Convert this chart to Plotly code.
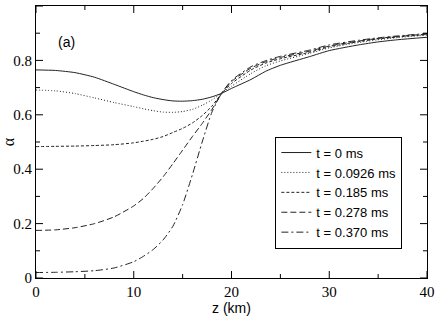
import plotly.graph_objects as go

# z positions (km) sampled along each curve
z = [0, 2, 4, 6, 8, 10, 11, 12, 13, 14, 15, 16, 17, 18, 19, 20, 22, 23.5, 25, 28, 30, 33, 35, 37, 40]

# alpha values for each time
a_0 = [0.765, 0.763, 0.755, 0.738, 0.712, 0.685, 0.673, 0.663, 0.656, 0.651, 0.650, 0.652, 0.657, 0.666, 0.679, 0.697, 0.730, 0.760, 0.782, 0.814, 0.836, 0.857, 0.868, 0.876, 0.885]
a_0926 = [0.691, 0.688, 0.678, 0.662, 0.645, 0.630, 0.622, 0.615, 0.610, 0.609, 0.612, 0.620, 0.635, 0.655, 0.680, 0.705, 0.752, 0.780, 0.798, 0.826, 0.846, 0.866, 0.876, 0.884, 0.893]
a_185 = [0.483, 0.484, 0.485, 0.487, 0.490, 0.497, 0.503, 0.510, 0.520, 0.535, 0.550, 0.570, 0.597, 0.632, 0.679, 0.715, 0.765, 0.790, 0.806, 0.830, 0.850, 0.869, 0.879, 0.886, 0.895]
a_278 = [0.175, 0.177, 0.185, 0.200, 0.225, 0.265, 0.293, 0.330, 0.372, 0.420, 0.470, 0.520, 0.568, 0.620, 0.679, 0.722, 0.772, 0.795, 0.811, 0.834, 0.853, 0.871, 0.881, 0.888, 0.897]
a_370 = [0.020, 0.021, 0.023, 0.027, 0.037, 0.060, 0.080, 0.105, 0.140, 0.190, 0.270, 0.380, 0.500, 0.610, 0.680, 0.726, 0.777, 0.799, 0.815, 0.838, 0.857, 0.874, 0.883, 0.890, 0.899]

labels = ['t = 0 ms', 't = 0.0926 ms', 't = 0.185 ms', 't = 0.278 ms', 't = 0.370 ms']
series = [a_0, a_0926, a_185, a_278, a_370]
dashes = ['solid', '1px,2px', '3px,2px', '6px,3px', '7px,3px,2px,3px']

x_major = [0, 10, 20, 30, 40]
x_minor = [5, 15, 25, 35]
y_major = [0, 0.2, 0.4, 0.6, 0.8, 1]
y_minor = [0.1, 0.3, 0.5, 0.7, 0.9]

serif = 'Liberation Serif'
sans = 'Liberation Sans'

fig = go.Figure()
for vals, name, d in zip(series, labels, dashes):
    fig.add_trace(go.Scatter(x=z, y=vals, name=name, mode='lines',
                             line=dict(color='#222', width=1, dash=d, shape='spline', smoothing=0.6)))

frame = dict(showline=True, linecolor='black', linewidth=1, mirror=True, ticks='',
             showgrid=False, zeroline=False, automargin=False)

fig.update_xaxes(range=[0, 40], tickvals=x_major,
                 tickfont=dict(family=serif, size=15, color='black'),
                 title=dict(text='z (km)', font=dict(family=sans, size=14, color='black'), standoff=4),
                 **frame)
fig.update_yaxes(range=[0, 1], tickvals=y_major, ticktext=['0', '0.2', '0.4', '0.6', '0.8', '1'],
                 tickfont=dict(family=serif, size=15, color='black'),
                 title=dict(text='α', font=dict(family=serif, size=16, color='black'), standoff=2),
                 **frame)

# inward tick marks on all four sides (plotly's own inside ticks did not render here)
tick_line = dict(color='black', width=1)
for vals, ln in ((x_major, 7), (x_minor, 4)):
    for v in vals:
        for edge, sign in ((0, 1), (1, -1)):
            fig.add_shape(type='line', xref='x', yref='paper', x0=v, x1=v,
                          ysizemode='pixel', yanchor=edge, y0=0, y1=sign * ln, line=tick_line)
for vals, ln in ((y_major, 7), (y_minor, 4)):
    for v in vals:
        for edge, sign in ((0, 1), (1, -1)):
            fig.add_shape(type='line', xref='paper', yref='y', y0=v, y1=v,
                          xsizemode='pixel', xanchor=edge, x0=0, x1=sign * ln, line=tick_line)

fig.add_annotation(text='(a)', x=0.077, y=0.868, xref='paper', yref='paper', showarrow=False,
                   xanchor='center', yanchor='middle',
                   font=dict(family=sans, size=14, color='black'))

fig.update_layout(
    width=436, height=320,
    margin=dict(l=36, r=9, t=6, b=42),
    plot_bgcolor='white', paper_bgcolor='white',
    legend=dict(x=0.937, y=0.314, xanchor='right', yanchor='middle',
                bordercolor='black', borderwidth=1, bgcolor='white',
                font=dict(family=sans, size=13, color='black'),
                itemwidth=30, tracegroupgap=0),
)

fig.write_html("out.html", post_script="document.body.style.margin='0';",
               config={'displayModeBar': False})
